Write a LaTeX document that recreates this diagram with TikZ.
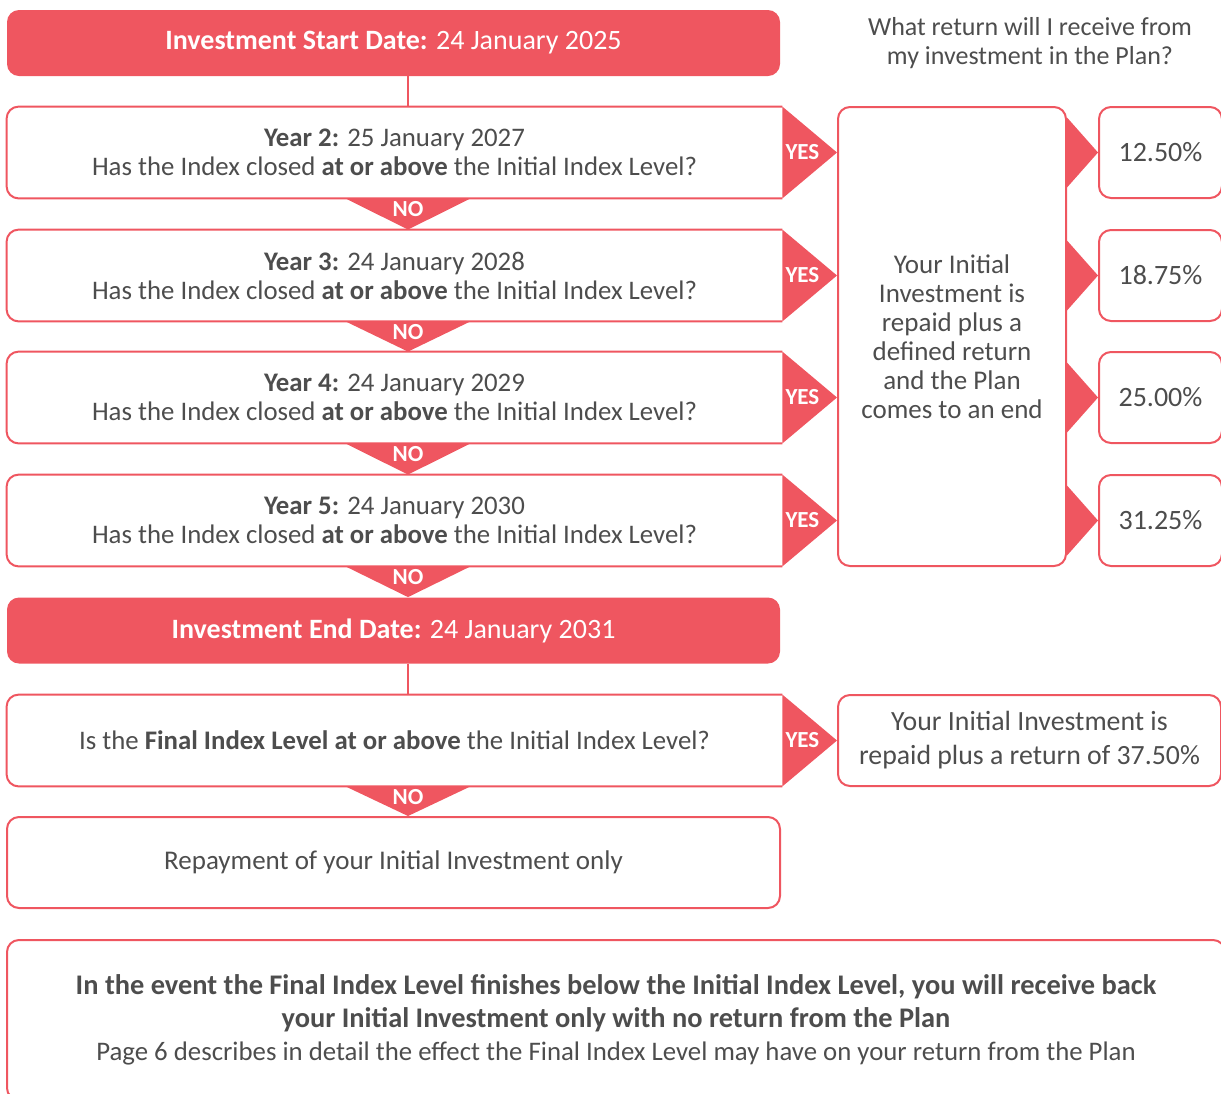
\documentclass[tikz,border=0pt]{standalone}
\usepackage{fontspec}
\setmainfont{Carlito}
\usepackage{xcolor}
\usepackage{tikz}
\usetikzlibrary{calc}
\definecolor{planred}{RGB}{239,86,96}
\definecolor{plangray}{RGB}{77,77,77}

\begin{document}
\begin{tikzpicture}[x=0.5pt,y=-0.5pt,
    redbox/.style={fill=planred,rounded corners=6pt,text=white,minimum width=386.5pt,minimum height=33pt,font=\fontsize{14}{16}\selectfont},
    qbox/.style={minimum width=387.5pt,minimum height=45.5pt,align=center,text=plangray,font=\fontsize{13.4}{14.5}\selectfont},
    rbox/.style={draw=planred,line width=1pt,rounded corners=6pt,align=center,text=plangray,font=\fontsize{13.5}{14.5}\selectfont},
    pbox/.style={rbox,minimum width=61.5pt,minimum height=45.5pt,font=\fontsize{14}{16}\selectfont},
    rim/.style={draw=planred,line width=1pt,rounded corners=6pt},
    tag/.style={text=white,font=\bfseries\fontsize{11.5}{12}\selectfont},
  ]
  \useasboundingbox (0,0) rectangle (1221,1093);
  \coordinate (axis) at (408,0);
  \node[redbox] (start)  at (393.5,  43)   {\textbf{Investment Start Date:} 24 January 2025};
  \node[qbox]   (y2)     at (394.5, 152.5) {\textbf{Year 2:} 25 January 2027\\Has the Index closed \textbf{at or above} the Initial Index Level?};
  \node[qbox]   (y3)     at (394.5, 275.5) {\textbf{Year 3:} 24 January 2028\\Has the Index closed \textbf{at or above} the Initial Index Level?};
  \node[qbox]   (y4)     at (394.5, 397.5) {\textbf{Year 4:} 24 January 2029\\Has the Index closed \textbf{at or above} the Initial Index Level?};
  \node[qbox]   (y5)     at (394.5, 520.5) {\textbf{Year 5:} 24 January 2030\\Has the Index closed \textbf{at or above} the Initial Index Level?};
  \node[redbox] (finish) at (393.5, 630.5) {\textbf{Investment End Date:} 24 January 2031};
  \node[qbox]   (final)  at (394.5, 740.5) {Is the \textbf{Final Index Level at or above} the Initial Index Level?};
  \node[rbox,minimum width=386.5pt,minimum height=45.5pt] (repay) at (393.5,862.5) {Repayment of your Initial Investment only};
  \node[rbox,minimum width=114pt,minimum height=229.5pt]  (defined) at (952,336.5) {Your Initial\\Investment is\\repaid plus a\\defined return\\and the Plan\\comes to an end};
  \node[pbox] (p2) at (1160.5,152.5) {12.50\%};
  \node[pbox] (p3) at (1160.5,275.5) {18.75\%};
  \node[pbox] (p4) at (1160.5,397.5) {25.00\%};
  \node[pbox] (p5) at (1160.5,520.5) {31.25\%};
  \node[rbox,minimum width=191.5pt,minimum height=45.5pt,font=\fontsize{13.9}{17}\selectfont] (bonus) at (1029.5,740.5) {Your Initial Investment is\\repaid plus a return of 37.50\%};
  \node[text=plangray,align=center,font=\fontsize{13}{14.5}\selectfont] (ask) at (1030,43) {What return will I receive from\\my investment in the Plan?};
  \node[rbox,minimum width=609pt,minimum height=80pt,font=\fontsize{13.4}{16.5}\selectfont] (note) at (616,1020)
    {{\fontsize{14.2}{16.5}\selectfont\bfseries In the event the Final Index Level finishes below the Initial Index Level, you will receive back}\\
     {\fontsize{14.2}{16.5}\selectfont\bfseries your Initial Investment only with no return from the Plan}\\
     Page 6 describes in detail the effect the Final Index Level may have on your return from the Plan};

  \draw[rim] (y2.north east)    -| (y2.west)    |- (y2.south east);
  \draw[rim] (y3.north east)    -| (y3.west)    |- (y3.south east);
  \draw[rim] (y4.north east)    -| (y4.west)    |- (y4.south east);
  \draw[rim] (y5.north east)    -| (y5.west)    |- (y5.south east);
  \draw[rim] (final.north east) -| (final.west) |- (final.south east);
  \draw[rim,sharp corners] (start.south -| axis)  -- (y2.north -| axis);
  \draw[rim,sharp corners] (finish.south -| axis) -- (final.north -| axis);

  \fill[planred] (y2.north east)    -- (y2.south east)    -- (defined.west |- y2.east) -- cycle;
  \fill[planred] (y3.north east)    -- (y3.south east)    -- (defined.west |- y3.east) -- cycle;
  \fill[planred] (y4.north east)    -- (y4.south east)    -- (defined.west |- y4.east) -- cycle;
  \fill[planred] (y5.north east)    -- (y5.south east)    -- (defined.west |- y5.east) -- cycle;
  \fill[planred] (final.north east) -- (final.south east) -- (bonus.west) -- cycle;
  \node[tag] (yes2) at ($(y2.east)+(20,0)$)    {YES};
  \node[tag] (yes3) at ($(y3.east)+(20,0)$)    {YES};
  \node[tag] (yes4) at ($(y4.east)+(20,0)$)    {YES};
  \node[tag] (yes5) at ($(y5.east)+(20,0)$)    {YES};
  \node[tag] (yes6) at ($(final.east)+(20,0)$) {YES};

  \fill[planred] ($(y2.south -| axis)+(-62.5,0)$)    -- ($(y2.south -| axis)+(62.5,0)$)    -- (y3.north -| axis)     -- cycle;
  \fill[planred] ($(y3.south -| axis)+(-62.5,0)$)    -- ($(y3.south -| axis)+(62.5,0)$)    -- (y4.north -| axis)     -- cycle;
  \fill[planred] ($(y4.south -| axis)+(-62.5,0)$)    -- ($(y4.south -| axis)+(62.5,0)$)    -- (y5.north -| axis)     -- cycle;
  \fill[planred] ($(y5.south -| axis)+(-62.5,0)$)    -- ($(y5.south -| axis)+(62.5,0)$)    -- (finish.north -| axis) -- cycle;
  \fill[planred] ($(final.south -| axis)+(-62.5,0)$) -- ($(final.south -| axis)+(62.5,0)$) -- (repay.north -| axis)  -- cycle;
  \node[tag] (no2) at ($(y2.south -| axis)+(0,11)$)    {NO};
  \node[tag] (no3) at ($(y3.south -| axis)+(0,11)$)    {NO};
  \node[tag] (no4) at ($(y4.south -| axis)+(0,11)$)    {NO};
  \node[tag] (no5) at ($(y5.south -| axis)+(0,11)$)    {NO};
  \node[tag] (no6) at ($(final.south -| axis)+(0,11)$) {NO};

  \fill[planred] ($(defined.east |- p2.west)+(0,-35)$) -- ($(defined.east |- p2.west)+(0,35)$) -- (p2.west) -- cycle;
  \fill[planred] ($(defined.east |- p3.west)+(0,-35)$) -- ($(defined.east |- p3.west)+(0,35)$) -- (p3.west) -- cycle;
  \fill[planred] ($(defined.east |- p4.west)+(0,-35)$) -- ($(defined.east |- p4.west)+(0,35)$) -- (p4.west) -- cycle;
  \fill[planred] ($(defined.east |- p5.west)+(0,-35)$) -- ($(defined.east |- p5.west)+(0,35)$) -- (p5.west) -- cycle;
\end{tikzpicture}
\end{document}
